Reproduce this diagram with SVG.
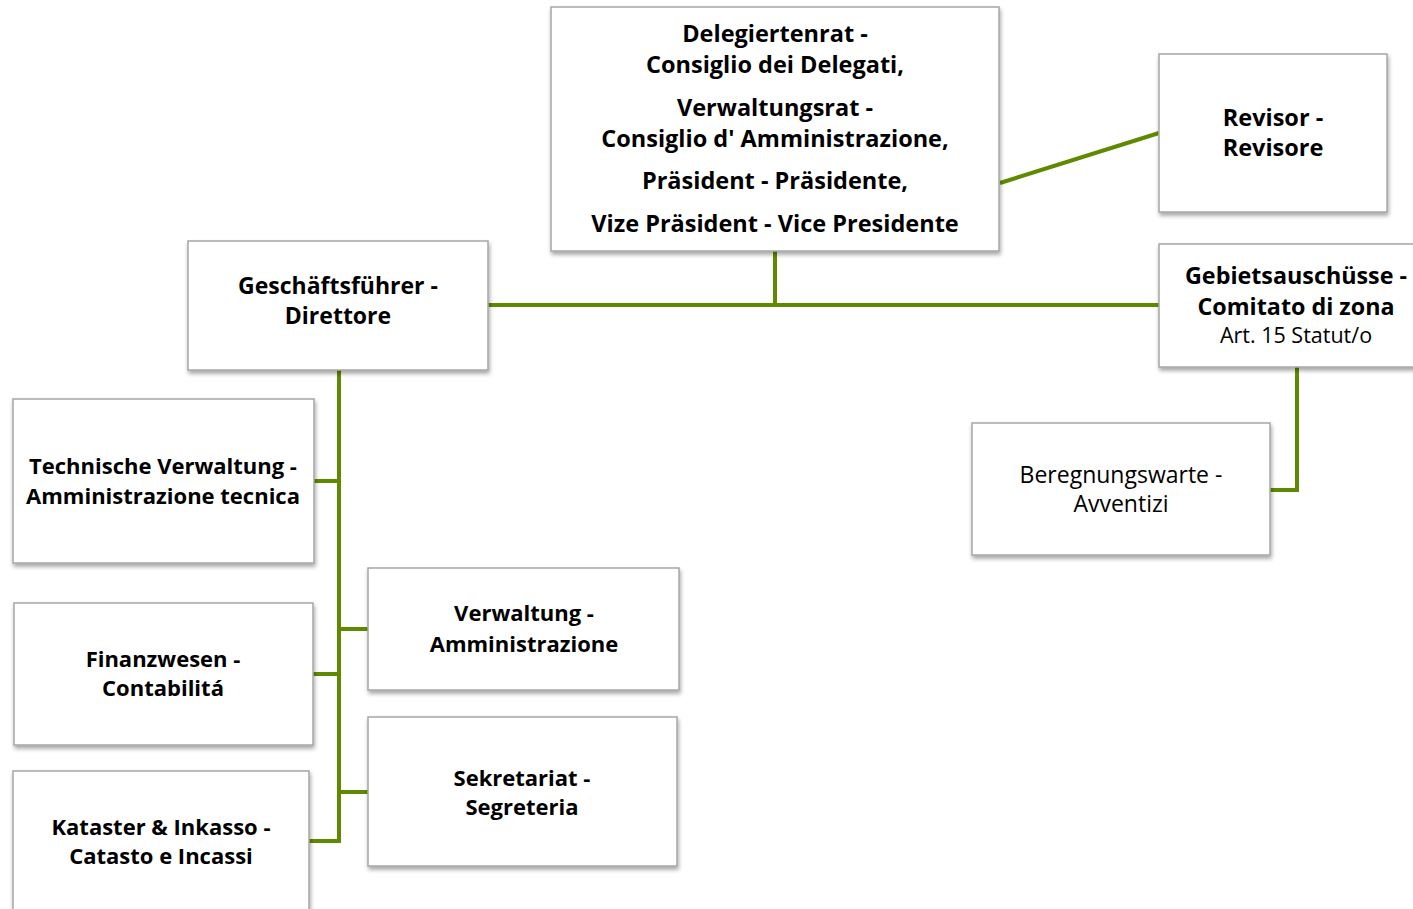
<svg xmlns="http://www.w3.org/2000/svg" width="1413" height="909" viewBox="0 0 1413 909">
<defs>
<filter id="sh" x="-10%" y="-10%" width="120%" height="130%">
<feGaussianBlur in="SourceAlpha" stdDeviation="2"/>
<feOffset dx="1" dy="3"/>
<feComponentTransfer><feFuncA type="linear" slope="0.35"/></feComponentTransfer>
<feMerge><feMergeNode/><feMergeNode in="SourceGraphic"/></feMerge>
</filter>
</defs>
<style>
.box{fill:#fff;stroke:#a6a6a6;stroke-width:1.5;filter:url(#sh)}
.b{font-family:"Open Sans","Liberation Sans",sans-serif;font-weight:bold;font-size:22px;fill:#000;text-anchor:middle}
.bl{font-size:23.5px}
.r{font-family:"Open Sans","Liberation Sans",sans-serif;font-size:23px;fill:#000;text-anchor:middle}
.c{fill:none;stroke:#5f8a00;stroke-width:4}
</style>
<rect width="1413" height="909" fill="#fff"/>
<g id="connectors">
<line class="c" x1="1000" y1="183" x2="1159" y2="133"/>
<line class="c" x1="488" y1="305" x2="1159" y2="305"/>
<line class="c" x1="775" y1="251" x2="775" y2="305"/>
<line class="c" x1="339" y1="370" x2="339" y2="843"/>
<line class="c" x1="314" y1="481" x2="339" y2="481"/>
<line class="c" x1="339" y1="629" x2="368" y2="629"/>
<line class="c" x1="313" y1="674" x2="339" y2="674"/>
<line class="c" x1="339" y1="792" x2="368" y2="792"/>
<polyline class="c" points="309,841 339,841"/>
<polyline class="c" points="1297,367 1297,490 1270,490"/>
</g>
<g id="delegiertenrat">
<rect class="box" x="551" y="7" width="448" height="244"/>
<text class="b bl" x="775" y="42">Delegiertenrat -</text>
<text class="b bl" x="775" y="73">Consiglio dei Delegati,</text>
<text class="b bl" x="775" y="116">Verwaltungsrat -</text>
<text class="b bl" x="775" y="147">Consiglio d' Amministrazione,</text>
<text class="b bl" x="775" y="189">Präsident - Präsidente,</text>
<text class="b bl" x="775" y="232">Vize Präsident - Vice Presidente</text>
</g>
<g id="revisor">
<rect class="box" x="1159" y="54" width="228" height="158"/>
<text class="b bl" x="1273" y="126">Revisor -</text>
<text class="b bl" x="1273" y="156">Revisore</text>
</g>
<g id="gebietsausschuesse">
<rect class="box" x="1159" y="244" width="260" height="123"/>
<text class="b" x="1296" y="284" style="font-size:23.3px">Gebietsauschüsse -</text>
<text class="b" x="1296" y="315" style="font-size:23.3px">Comitato di zona</text>
<text class="r" x="1296" y="343" style="font-size:21.5px">Art. 15 Statut/o</text>
</g>
<g id="geschaeftsfuehrer">
<rect class="box" x="188" y="241" width="300" height="129"/>
<text class="b" x="338" y="294" style="font-size:23px">Geschäftsführer -</text>
<text class="b" x="338" y="324" style="font-size:23px">Direttore</text>
</g>
<g id="technische">
<rect class="box" x="13" y="399" width="301" height="164"/>
<text class="b" x="163" y="474">Technische Verwaltung -</text>
<text class="b" x="163" y="504">Amministrazione tecnica</text>
</g>
<g id="finanzwesen">
<rect class="box" x="14" y="603" width="299" height="142"/>
<text class="b" x="163" y="667">Finanzwesen -</text>
<text class="b" x="163" y="696">Contabilitá</text>
</g>
<g id="kataster">
<rect class="box" x="13" y="771" width="296" height="150"/>
<text class="b" x="161" y="835">Kataster &amp; Inkasso -</text>
<text class="b" x="161" y="864">Catasto e Incassi</text>
</g>
<g id="verwaltung">
<rect class="box" x="368" y="568" width="311" height="122"/>
<text class="b" x="524" y="621">Verwaltung -</text>
<text class="b" x="524" y="652">Amministrazione</text>
</g>
<g id="sekretariat">
<rect class="box" x="368" y="717" width="309" height="149"/>
<text class="b" x="522" y="786">Sekretariat -</text>
<text class="b" x="522" y="815">Segreteria</text>
</g>
<g id="beregnungswarte">
<rect class="box" x="972" y="423" width="298" height="132"/>
<text class="r" x="1121" y="483">Beregnungswarte -</text>
<text class="r" x="1121" y="512">Avventizi</text>
</g>
</svg>
